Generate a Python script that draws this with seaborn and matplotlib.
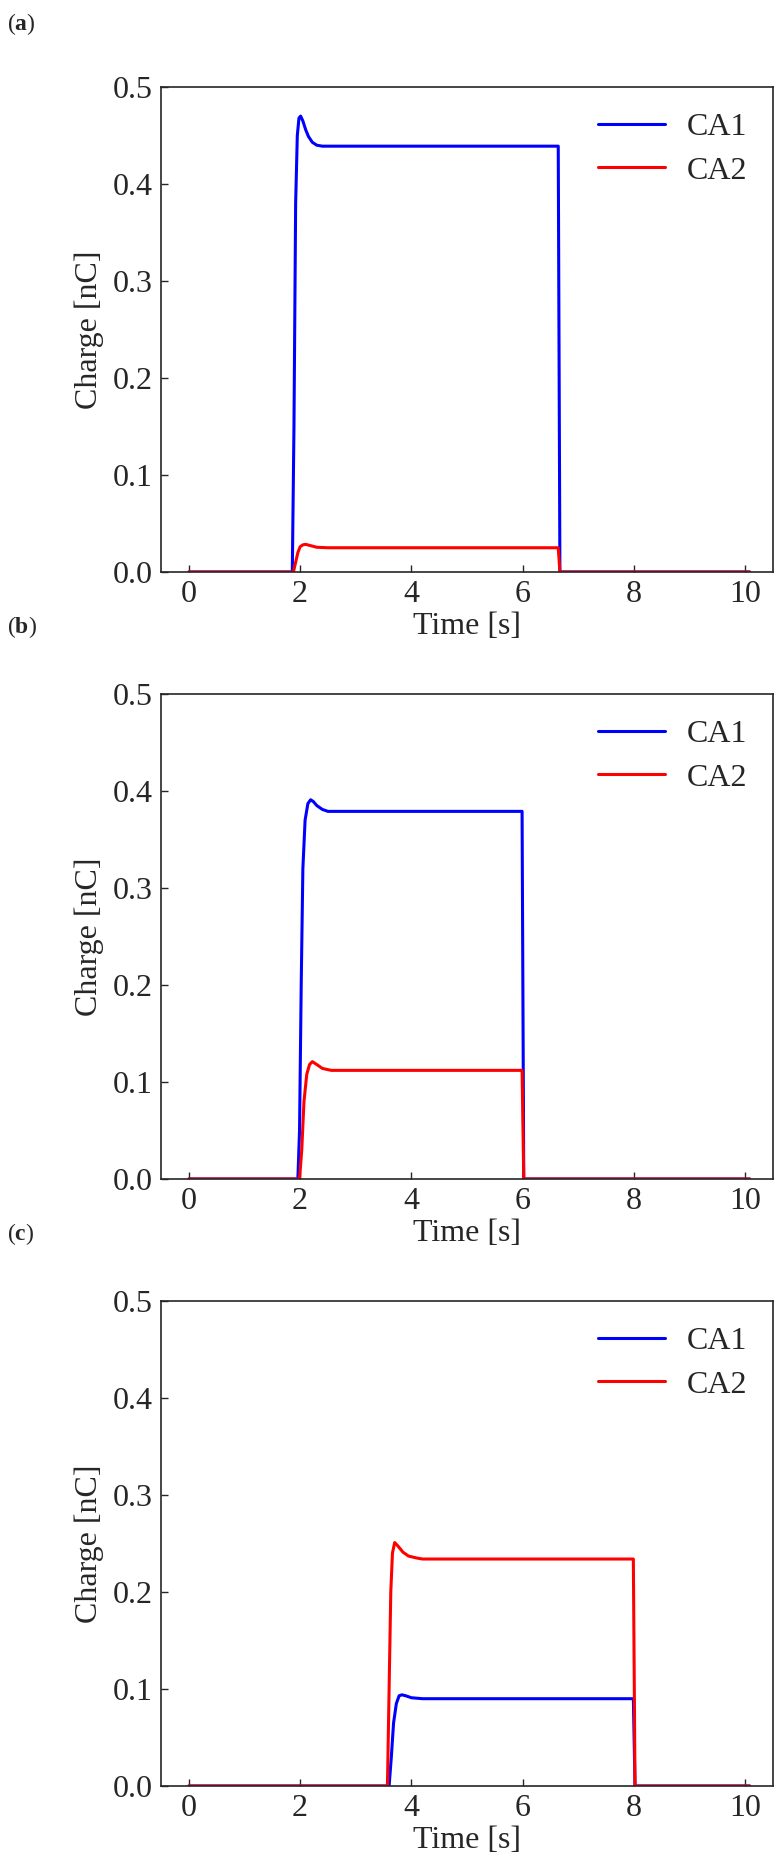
import matplotlib
matplotlib.use("Agg")
import matplotlib.pyplot as plt
import seaborn as sns
import pandas as pd

# Panel (a)
a_ca1_t = [0, 1.86, 1.89, 1.92, 1.95, 1.98, 2.01, 2.05, 2.10, 2.15, 2.22, 2.30, 2.40, 2.50, 6.64, 6.67, 10.08]
a_ca1_q = [0, 0, 0.15, 0.38, 0.45, 0.468, 0.470, 0.465, 0.456, 0.449, 0.443, 0.440, 0.439, 0.439, 0.439, 0, 0]
a_ca2_t = [0, 1.88, 1.92, 1.96, 2.00, 2.05, 2.10, 2.20, 2.30, 2.50, 6.64, 6.67, 10.08]
a_ca2_q = [0, 0, 0.010, 0.020, 0.026, 0.028, 0.0285, 0.027, 0.0255, 0.025, 0.025, 0, 0]

# Panel (b)
b_ca1_t = [0, 1.96, 1.99, 2.02, 2.05, 2.09, 2.14, 2.19, 2.24, 2.30, 2.40, 2.50, 5.99, 6.02, 10.08]
b_ca1_q = [0, 0, 0.05, 0.20, 0.32, 0.37, 0.387, 0.391, 0.389, 0.385, 0.381, 0.379, 0.379, 0, 0]
b_ca2_t = [0, 1.99, 2.03, 2.07, 2.12, 2.17, 2.22, 2.30, 2.40, 2.56, 5.99, 6.02, 10.08]
b_ca2_q = [0, 0, 0.03, 0.08, 0.108, 0.118, 0.121, 0.118, 0.114, 0.112, 0.112, 0, 0]

# Panel (c)
c_ca1_t = [0, 3.60, 3.64, 3.68, 3.73, 3.78, 3.83, 3.90, 4.00, 4.20, 7.99, 8.02, 10.08]
c_ca1_q = [0, 0, 0.03, 0.065, 0.085, 0.093, 0.094, 0.093, 0.091, 0.090, 0.090, 0, 0]
c_ca2_t = [0, 3.57, 3.60, 3.63, 3.66, 3.70, 3.75, 3.85, 3.95, 4.10, 4.20, 7.99, 8.02, 10.08]
c_ca2_q = [0, 0, 0.10, 0.20, 0.24, 0.251, 0.248, 0.241, 0.237, 0.235, 0.234, 0.234, 0, 0]

panels = [
    ("a", a_ca1_t, a_ca1_q, a_ca2_t, a_ca2_q),
    ("b", b_ca1_t, b_ca1_q, b_ca2_t, b_ca2_q),
    ("c", c_ca1_t, c_ca1_q, c_ca2_t, c_ca2_q),
]

sns.set_style("ticks")
SERIF = "Liberation Serif"
plt.rcParams['font.family'] = [SERIF, 'DejaVu Serif']
plt.rcParams['mathtext.fontset'] = 'custom'
plt.rcParams['mathtext.rm'] = SERIF
plt.rcParams['mathtext.bf'] = SERIF + ':bold'

W, H = 783, 1873
fig = plt.figure(figsize=(W / 100, H / 100), dpi=100)

tops = [87, 694, 1301]
label_y = [24, 627, 1234]

for (name, t1, q1, t2, q2), top, ly in zip(panels, tops, label_y):
    df = pd.concat([
        pd.DataFrame({"Time": t1, "Charge": q1, "Series": "CA1"}),
        pd.DataFrame({"Time": t2, "Charge": q2, "Series": "CA2"}),
    ])
    ax = fig.add_axes([161 / W, 1 - (top + 485) / H, 612 / W, 485 / H])
    sns.lineplot(data=df, x="Time", y="Charge", hue="Series",
                 palette={"CA1": "blue", "CA2": "red"}, estimator=None,
                 linewidth=2.2, ax=ax)
    ax.set_xlim(-0.5, 10.5)
    ax.set_ylim(0, 0.5)
    ax.set_xticks([0, 2, 4, 6, 8, 10])
    ax.set_xticklabels(["0", "2", "4", "6", "8", "10"])
    ax.set_yticks([0.0, 0.1, 0.2, 0.3, 0.4, 0.5])
    ax.set_yticklabels(["0.0", "0.1", "0.2", "0.3", "0.4", "0.5"])
    ax.tick_params(direction="in", length=5, width=1, labelsize=23, pad=6,
                   top=False, right=False, labelfontfamily=SERIF)
    ax.set_xlabel("Time [s]", fontsize=23, labelpad=2, family=SERIF)
    ax.set_ylabel("Charge [nC]", fontsize=23, labelpad=6, family=SERIF)
    for s in ax.spines.values():
        s.set_linewidth(1.2)
        s.set_visible(True)
    ax.legend(loc="upper right", frameon=False, prop={"family": SERIF, "size": 23},
              handlelength=2.1, handletextpad=0.7, labelspacing=0.45,
              borderaxespad=0.4)
    fig.text(7 / W, 1 - ly / H, r"($\mathbf{" + name + "}$)", fontsize=17,
             ha="left", va="center", family=SERIF)

fig.savefig("out.png", dpi=100)
